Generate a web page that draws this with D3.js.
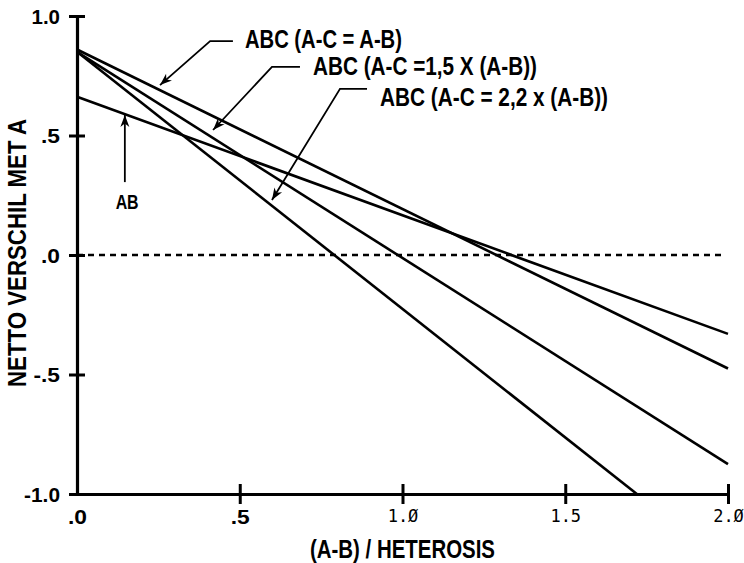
<!DOCTYPE html>
<html>
<head>
<meta charset="utf-8">
<script src="https://cdn.jsdelivr.net/npm/d3@7"></script>
<style>
  body { margin: 0; background: #fff; }
  svg { display: block; }
  .bold { font-family: "Liberation Sans", Arial, sans-serif; font-weight: bold; }
  .mono { font-family: "DejaVu Sans Mono", "Liberation Mono", monospace; }
</style>
</head>
<body>
<svg id="chart"></svg>
<script>
// Data
var xTicks = [0, 0.5, 1.0, 1.5, 2.0];
var xTickLabels = [".0", ".5", "1.\u00D8", "1.5", "2.\u00D8"];
var yTicks = [-1.0, -0.5, 0, 0.5, 1.0];
var yTickLabels = ["-1.0", "-.5", ".0", ".5", "1.0"];

var abX = [0, 2.0];
var abY = [0.662, -0.33];
var abc10X = [0, 2.0];
var abc10Y = [0.86, -0.475];
var abc15X = [0, 2.0];
var abc15Y = [0.85, -0.875];
var abc22X = [0, 1.72];
var abc22Y = [0.85, -1.0];
var zeroX = [0, 1.98];

var width = 744;
var height = 563;

var x = d3.scaleLinear().domain([0, 2]).range([77, 728]);
var y = d3.scaleLinear().domain([-1, 1]).range([494, 16]);

var svg = d3.select("#chart")
    .attr("width", width)
    .attr("height", height);

// The original uses a condensed bold face; squeeze Liberation Sans to the measured width.
function squeeze(sel, w) {
    sel.attr("textLength", w).attr("lengthAdjust", "spacingAndGlyphs");
}

// Arrow head marker
svg.append("defs").append("marker")
    .attr("id", "arrow")
    .attr("markerUnits", "userSpaceOnUse")
    .attr("viewBox", "-13 -5 14 10")
    .attr("refX", 0).attr("refY", 0)
    .attr("markerWidth", 14).attr("markerHeight", 10)
    .attr("orient", "auto")
    .append("path")
    .attr("d", "M0,0L-12,-4.5L-8.5,0L-12,4.5Z")
    .attr("fill", "#000");

// Zero reference line
svg.append("line")
    .attr("x1", x(zeroX[0])).attr("x2", x(zeroX[1]))
    .attr("y1", y(0)).attr("y2", y(0))
    .attr("stroke", "#000")
    .attr("stroke-width", 2.6)
    .attr("stroke-dasharray", "6,5");

// Series lines
var series = [
    { xs: abX, ys: abY },
    { xs: abc10X, ys: abc10Y },
    { xs: abc15X, ys: abc15Y },
    { xs: abc22X, ys: abc22Y }
];
var line = d3.line()
    .x(function (d) { return x(d[0]); })
    .y(function (d) { return y(d[1]); });

svg.selectAll("path.series")
    .data(series)
    .enter().append("path")
    .attr("class", "series")
    .attr("d", function (s) { return line(d3.zip(s.xs, s.ys)); })
    .attr("fill", "none")
    .attr("stroke", "#000")
    .attr("stroke-width", 2.6);

// Axes
var xAxis = svg.append("g")
    .attr("transform", "translate(0," + y(-1) + ")")
    .call(d3.axisBottom(x).tickValues(xTicks).tickSizeOuter(0)
        .tickFormat(function (d, i) { return xTickLabels[i]; }));
var yAxis = svg.append("g")
    .attr("transform", "translate(" + x(0) + ",0)")
    .call(d3.axisLeft(y).tickValues(yTicks).tickSizeOuter(0)
        .tickFormat(function (d, i) { return yTickLabels[i]; }));

[xAxis, yAxis].forEach(function (a) {
    a.select(".domain").attr("stroke-width", 3.2);
    a.selectAll(".tick line").attr("stroke-width", 3);
});
xAxis.selectAll(".tick line").attr("y1", -10).attr("y2", 10);
yAxis.selectAll(".tick line").attr("x1", -8).attr("x2", 8);
xAxis.selectAll(".tick").filter(function (d) { return d === 0; }).select("line").remove();

xAxis.selectAll(".tick text")
    .attr("class", function (d) { return d < 1 ? "bold" : "mono"; })
    .attr("font-size", function (d) { return d < 1 ? 21 : 17; })
    .attr("font-family", null)
    .attr("y", 14)
    .attr("dy", function (d) { return d < 1 ? "0.76em" : "0.82em"; })
    .each(function (d) { if (d < 1) squeeze(d3.select(this), 19); });

yAxis.selectAll(".tick text")
    .attr("class", "bold")
    .attr("font-size", 20)
    .attr("font-family", null)
    .attr("x", -17)
    .attr("dy", "0.36em")
    .each(function (d, i) {
        squeeze(d3.select(this), yTickLabels[i].length * 9.5 + (yTickLabels[i].charAt(0) === "-" ? -2 : 0));
    });

// Axis titles
svg.append("text")
    .attr("class", "bold")
    .attr("font-size", 25)
    .attr("text-anchor", "middle")
    .attr("x", (x(0) + x(2)) / 2)
    .attr("y", 558)
    .text("(A-B) / HETEROSIS")
    .call(squeeze, 185);

svg.append("text")
    .attr("class", "bold")
    .attr("font-size", 25)
    .attr("text-anchor", "middle")
    .attr("transform", "translate(26," + (y(0) - 2) + ")rotate(-90)")
    .text("NETTO VERSCHIL MET A")
    .call(squeeze, 268);

// Annotations (data units): tip, elbow, end of the horizontal stroke, text anchor, text width
var notes = [
    { tip: [0.255, 0.711], elbow: [0.409, 0.895], end: [0.479, 0.895], at: [0.516, 0.866], w: 157, text: "ABC (A-C = A-B)" },
    { tip: [0.418, 0.523], elbow: [0.599, 0.787], end: [0.685, 0.787], at: [0.725, 0.753], w: 224, text: "ABC (A-C =1,5 X (A-B))" },
    { tip: [0.599, 0.230], elbow: [0.808, 0.695], end: [0.891, 0.695], at: [0.931, 0.623], w: 228, text: "ABC (A-C = 2,2 x (A-B))" }
];

notes.forEach(function (n) {
    svg.append("path")
        .attr("d", "M" + x(n.end[0]) + "," + y(n.end[1]) +
            "L" + x(n.elbow[0]) + "," + y(n.elbow[1]) +
            "L" + x(n.tip[0]) + "," + y(n.tip[1]))
        .attr("fill", "none")
        .attr("stroke", "#000")
        .attr("stroke-width", 1.8)
        .attr("marker-end", "url(#arrow)");
    svg.append("text")
        .attr("class", "bold")
        .attr("font-size", 25)
        .attr("x", x(n.at[0]))
        .attr("y", y(n.at[1]))
        .text(n.text)
        .call(squeeze, n.w);
});

// AB label with vertical arrow
svg.append("line")
    .attr("x1", x(0.147)).attr("x2", x(0.147))
    .attr("y1", y(0.305)).attr("y2", y(0.586))
    .attr("stroke", "#000")
    .attr("stroke-width", 1.8)
    .attr("marker-end", "url(#arrow)");
svg.append("text")
    .attr("class", "bold")
    .attr("font-size", 21)
    .attr("text-anchor", "middle")
    .attr("x", x(0.154))
    .attr("y", y(0.192))
    .text("AB")
    .call(squeeze, 23);
</script>
</body>
</html>
